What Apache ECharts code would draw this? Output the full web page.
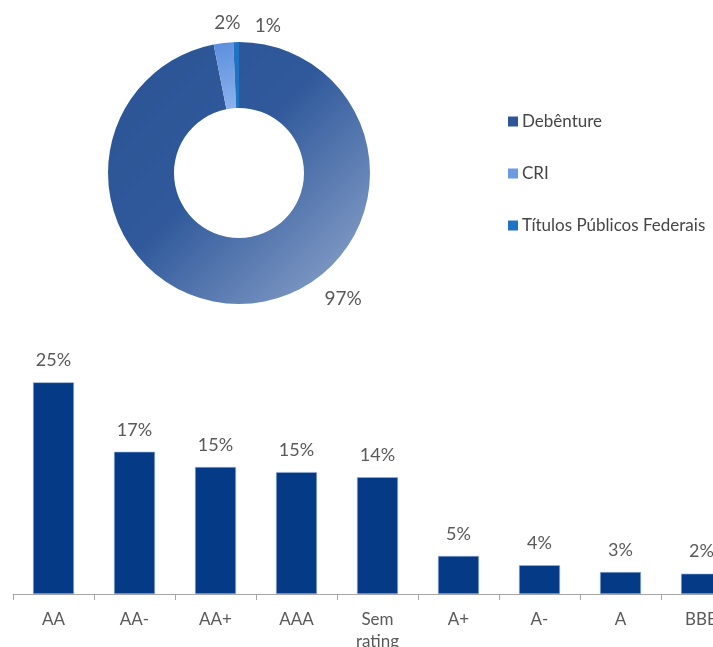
<!DOCTYPE html>
<html>
<head>
<meta charset="utf-8">
<script src="https://cdn.jsdelivr.net/npm/echarts@6/dist/echarts.min.js"></script>
<style>
html,body{margin:0;padding:0;background:#fff;}
#chart{width:713px;height:647px;}
</style>
</head>
<body>
<div id="chart"></div>
<script>
// Donut: asset type split (%)
var assetNames = ['Debênture', 'CRI', 'Títulos Públicos Federais'];
var assetValues = [96.9, 2.4, 0.7];
var assetLabels = ['97%', '2%', '1%'];

// Bars: rating split (%)
var ratingCategories = ['AA', 'AA-', 'AA+', 'AAA', 'Sem\nrating', 'A+', 'A-', 'A', 'BBB'];
var ratingValues = [25.0, 16.8, 15.0, 14.4, 13.8, 4.5, 3.4, 2.6, 2.4];
var ratingLabels = ['25%', '17%', '15%', '15%', '14%', '5%', '4%', '3%', '2%'];

var FONT = 'Lato';
var chart = echarts.init(document.getElementById('chart'));

var sliceColors = [
  new echarts.graphic.LinearGradient(0, 0, 1, 1, [
    {offset: 0, color: '#2B5495'},
    {offset: 0.45, color: '#30599B'},
    {offset: 1, color: '#93A9CE'}
  ]),
  new echarts.graphic.LinearGradient(0, 0, 1, 1, [
    {offset: 0, color: '#5A8EDB'},
    {offset: 1, color: '#8DB3EC'}
  ]),
  '#1E73C4'
];
var legendColors = ['#2D5697', '#6C9BE2', '#1E73C4'];
var labelOffsets = [[67, -12], [23, -12], [50, -8]];

var pieData = assetNames.map(function (n, i) {
  return {name: n, value: assetValues[i], itemStyle: {color: sliceColors[i]}};
});

var option = {
  backgroundColor: '#ffffff',
  animation: false,
  textStyle: {fontFamily: FONT},
  legend: {
    orient: 'vertical',
    left: 503,
    top: 108,
    itemWidth: 10,
    itemHeight: 10,
    itemGap: 35,
    icon: 'rect',
    textStyle: {fontFamily: FONT, fontSize: 17, color: '#454545', padding: [0, 0, 0, -1]},
    data: assetNames.map(function (n, i) {
      return {name: n, itemStyle: {color: legendColors[i]}};
    })
  },
  grid: {left: 13, top: 340, width: 729, height: 254, containLabel: false, outerBoundsMode: 'none'},
  xAxis: {
    type: 'category',
    data: ratingCategories,
    axisLine: {lineStyle: {color: '#A6A6A6', width: 1}},
    axisTick: {show: true, inside: false, length: 6, lineStyle: {color: '#A6A6A6'}},
    axisLabel: {fontFamily: FONT, fontSize: 17, color: '#595959', margin: 15, lineHeight: 22, interval: 0}
  },
  yAxis: {
    type: 'value', min: 0, max: 30,
    show: false,
    splitLine: {show: false}
  },
  series: [
    {
      type: 'pie',
      center: [239, 173],
      radius: [65, 131],
      startAngle: 90,
      clockwise: true,
      avoidLabelOverlap: false,
      data: pieData,
      label: {
        show: true,
        position: 'outside',
        fontFamily: FONT,
        fontSize: 19,
        color: '#595959',
        formatter: function (p) { return assetLabels[p.dataIndex]; }
      },
      labelLine: {show: false, length: 8, length2: 0},
      labelLayout: function (p) {
        var o = labelOffsets[p.dataIndex];
        return {dx: o[0], dy: o[1]};
      },
      emphasis: {disabled: true}
    },
    {
      type: 'bar',
      data: ratingValues,
      barWidth: 41,
      itemStyle: {color: '#053B86', borderColor: '#9DB3D6', borderWidth: 0.6},
      label: {
        show: true,
        position: 'top',
        distance: 13,
        fontFamily: FONT,
        fontSize: 18,
        color: '#595959',
        formatter: function (p) { return ratingLabels[p.dataIndex]; }
      },
      emphasis: {disabled: true}
    }
  ]
};
chart.setOption(option);
</script>
</body>
</html>
